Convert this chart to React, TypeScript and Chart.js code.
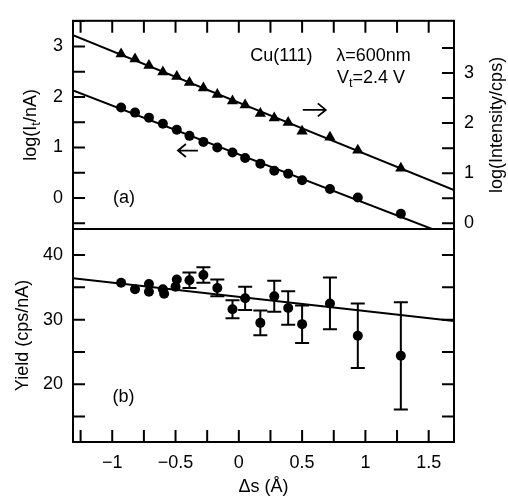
import React, { useEffect, useRef } from 'react';
import { Chart, registerables } from 'chart.js';

Chart.register(...registerables);

// ---- data ----
const deltaS = [-0.93, -0.82, -0.71, -0.60, -0.49, -0.39, -0.28, -0.17, -0.05, 0.05, 0.17, 0.28, 0.39, 0.50, 0.72, 0.94, 1.28];
const logCurrent = [1.79, 1.69, 1.59, 1.47, 1.35, 1.23, 1.11, 1.00, 0.90, 0.79, 0.68, 0.54, 0.48, 0.35, 0.18, 0.01, -0.31];
const logIntensity = [3.38, 3.28, 3.15, 3.02, 2.93, 2.81, 2.70, 2.57, 2.44, 2.36, 2.19, 2.10, 2.01, 1.84, 1.72, 1.46, 1.10];
const yieldVals = [35.7, 34.7, 35.5, 34.7, 36.2, 36.1, 36.9, 34.9, 31.6, 33.3, 29.5, 33.6, 31.8, 29.3, 32.5, 27.5, 24.4];
const yieldErr = [0, 0, 0, 0, 0, 1.2, 1.2, 1.3, 1.4, 1.8, 1.9, 2.4, 2.6, 2.9, 4.0, 5.0, 8.3];
const extraDeltaS = [-0.71, -0.59, -0.50];
const extraYield = [34.3, 34.0, 35.1];

const fitS = [-1.31, 1.70];
const fitLogCurrent = [2.13, -0.78];
const fitLogIntensity = [3.76, 0.66];
const fitYield = [36.4, 29.8];

// ---- tick labels / tick marks ----
const xTickLabels = [-1, -0.5, 0, 0.5, 1, 1.5];
const currentTickLabels = [0, 1, 2, 3];
const intensityTickLabels = [0, 1, 2, 3];
const yieldTickLabels = [20, 30, 40];
const xTickMarks = [-1.25, -1, -0.75, -0.5, -0.25, 0, 0.25, 0.5, 0.75, 1, 1.25, 1.5];
const currentTickMarks = [-0.5, 0, 0.5, 1, 1.5, 2, 2.5, 3, 3.5];
const intensityTickMarks = [0, 0.5, 1, 1.5, 2, 2.5, 3, 3.5];
const yieldTickMarks = [15, 20, 25, 30, 35, 40];

const FONT = '"Liberation Sans", Arial, Helvetica, sans-serif';
const FS = 18;
const TICK = 12;

const fmt = (v: number) => (v < 0 ? '\u2212' + Math.abs(v) : String(v));

type Seg = { t: string; sub?: boolean };

function drawRich(ctx: CanvasRenderingContext2D, segs: Seg[], x: number, y: number, size: number, align: 'left' | 'center', rot = 0) {
  ctx.save();
  ctx.translate(x, y);
  ctx.rotate(rot);
  const subSize = size * 0.72;
  const widths = segs.map((s) => {
    ctx.font = `${s.sub ? subSize : size}px ${FONT}`;
    return ctx.measureText(s.t).width;
  });
  const total = widths.reduce((a, b) => a + b, 0);
  let cx = align === 'center' ? -total / 2 : 0;
  ctx.textBaseline = 'middle';
  ctx.textAlign = 'left';
  ctx.fillStyle = '#000';
  segs.forEach((s, i) => {
    ctx.font = `${s.sub ? subSize : size}px ${FONT}`;
    ctx.fillText(s.t, cx, s.sub ? size * 0.32 : 0);
    cx += widths[i];
  });
  ctx.restore();
}

function arrow(ctx: CanvasRenderingContext2D, x1: number, x2: number, yy: number) {
  const d = x2 > x1 ? -1 : 1;
  ctx.beginPath();
  ctx.moveTo(x1, yy);
  ctx.lineTo(x2, yy);
  ctx.moveTo(x2 + d * 8, yy - 6.5);
  ctx.lineTo(x2, yy);
  ctx.lineTo(x2 + d * 8, yy + 6.5);
  ctx.stroke();
}

const tickFont = { family: FONT, size: FS };

function yScale(min: number, max: number, position: string, width: number, labels: number[] | null) {
  return {
    type: 'linear',
    position,
    min,
    max,
    grid: { display: false, drawTicks: false },
    border: { display: false },
    afterFit: (s: any) => { s.width = width; },
    afterBuildTicks: (s: any) => { if (labels) s.ticks = labels.map((v) => ({ value: v })); },
    ticks: {
      display: !!labels,
      font: tickFont,
      color: '#000',
      padding: 10,
      autoSkip: false,
      callback: (v: any) => fmt(Number(v)),
    },
  };
}

const topDecor = {
  id: 'topDecor',
  afterDraw(chart: any) {
    const { ctx, chartArea: a, scales } = chart;
    const x = scales.x, y = scales.y, y2 = scales.y2;
    ctx.save();
    ctx.strokeStyle = '#000';
    ctx.lineWidth = 2;
    ctx.strokeRect(a.left, a.top, a.right - a.left, a.bottom - a.top);
    ctx.beginPath();
    xTickMarks.forEach((v) => { const p = x.getPixelForValue(v); ctx.moveTo(p, a.top); ctx.lineTo(p, a.top + TICK); });
    currentTickMarks.forEach((v) => { const p = y.getPixelForValue(v); ctx.moveTo(a.left, p); ctx.lineTo(a.left + TICK, p); });
    intensityTickMarks.forEach((v) => { const p = y2.getPixelForValue(v); ctx.moveTo(a.right, p); ctx.lineTo(a.right - TICK, p); });
    ctx.stroke();
    const cy = (a.top + a.bottom) / 2;
    drawRich(ctx, [{ t: 'log(I' }, { t: 't', sub: true }, { t: '/nA)' }], 31, cy, FS, 'center', -Math.PI / 2);
    drawRich(ctx, [{ t: 'log(Intensity/cps)' }], 497, cy, FS, 'center', -Math.PI / 2);
    drawRich(ctx, [{ t: 'Cu(111)' }], x.getPixelForValue(0.09), y.getPixelForValue(2.806), FS, 'left');
    drawRich(ctx, [{ t: '\u03bb=600nm' }], x.getPixelForValue(0.77), y.getPixelForValue(2.806), FS, 'left');
    drawRich(ctx, [{ t: 'V' }, { t: 't', sub: true }, { t: '=2.4 V' }], x.getPixelForValue(0.775), y.getPixelForValue(2.38), FS, 'left');
    drawRich(ctx, [{ t: '(a)' }], x.getPixelForValue(-0.907), y.getPixelForValue(0), FS, 'center');
    ctx.lineWidth = 1.8;
    arrow(ctx, x.getPixelForValue(0.505), x.getPixelForValue(0.687), y.getPixelForValue(1.743));
    arrow(ctx, x.getPixelForValue(-0.323), x.getPixelForValue(-0.481), y.getPixelForValue(0.939));
    ctx.restore();
  },
};

const bottomDecor = {
  id: 'bottomDecor',
  afterDatasetsDraw(chart: any) {
    const { ctx, scales } = chart;
    const x = scales.x, y = scales.y;
    ctx.save();
    ctx.strokeStyle = '#000';
    ctx.lineWidth = 2;
    ctx.beginPath();
    deltaS.forEach((s, i) => {
      const e = yieldErr[i];
      if (!e) return;
      const px = x.getPixelForValue(s);
      const top = y.getPixelForValue(yieldVals[i] + e);
      const bot = y.getPixelForValue(yieldVals[i] - e);
      ctx.moveTo(px, top); ctx.lineTo(px, bot);
      ctx.moveTo(px - 7, top); ctx.lineTo(px + 7, top);
      ctx.moveTo(px - 7, bot); ctx.lineTo(px + 7, bot);
    });
    ctx.stroke();
    ctx.restore();
  },
  afterDraw(chart: any) {
    const { ctx, chartArea: a, scales } = chart;
    const x = scales.x, y = scales.y, y2 = scales.y2;
    ctx.save();
    ctx.strokeStyle = '#000';
    ctx.lineWidth = 2;
    ctx.strokeRect(a.left, a.top, a.right - a.left, a.bottom - a.top);
    ctx.beginPath();
    xTickMarks.forEach((v) => { const p = x.getPixelForValue(v); ctx.moveTo(p, a.bottom); ctx.lineTo(p, a.bottom - TICK); });
    yieldTickMarks.forEach((v) => { const p = y.getPixelForValue(v); ctx.moveTo(a.left, p); ctx.lineTo(a.left + TICK, p); });
    yieldTickMarks.forEach((v) => { const p = y2.getPixelForValue(v); ctx.moveTo(a.right, p); ctx.lineTo(a.right - TICK, p); });
    ctx.stroke();
    const cy = (a.top + a.bottom) / 2;
    drawRich(ctx, [{ t: 'Yield (cps/nA)' }], 23, cy, FS, 'center', -Math.PI / 2);
    drawRich(ctx, [{ t: '\u0394s (\u00c5)' }], (a.left + a.right) / 2, 487, FS, 'center');
    drawRich(ctx, [{ t: '(b)' }], x.getPixelForValue(-0.911), y.getPixelForValue(18.03), FS, 'center');
    ctx.restore();
  },
};

const pts = (xs: number[], ys: number[]) => xs.map((v, i) => ({ x: v, y: ys[i] }));

const common = {
  responsive: false,
  animation: false,
  devicePixelRatio: 1,
  events: [],
  plugins: { legend: { display: false }, tooltip: { enabled: false } },
};

function topConfig(): any {
  return {
    type: 'scatter',
    data: {
      datasets: [
        { data: pts(fitS, fitLogCurrent), yAxisID: 'y', showLine: true, borderColor: '#000', borderWidth: 2, pointRadius: 0, clip: 0 },
        { data: pts(fitS, fitLogIntensity), yAxisID: 'y2', showLine: true, borderColor: '#000', borderWidth: 2, pointRadius: 0, clip: 0 },
        { data: pts(deltaS, logCurrent), yAxisID: 'y', pointStyle: 'circle', pointRadius: 5, backgroundColor: '#000', borderWidth: 0 },
        { data: pts(deltaS, logIntensity), yAxisID: 'y2', pointStyle: 'triangle', pointRadius: 6.5, backgroundColor: '#000', borderWidth: 0 },
      ],
    },
    options: {
      ...common,
      layout: { padding: { top: 14, bottom: 498 - 229, left: 0, right: 0 } },
      scales: {
        x: { type: 'linear', min: -1.31, max: 1.70, display: false },
        y: yScale(-0.613, 3.506, 'left', 73, currentTickLabels),
        y2: yScale(-0.116, 4.045, 'right', 54, intensityTickLabels),
      },
    },
    plugins: [topDecor],
  };
}

function bottomConfig(): any {
  return {
    type: 'scatter',
    data: {
      datasets: [
        { data: pts(fitS, fitYield), showLine: true, borderColor: '#000', borderWidth: 2, pointRadius: 0, clip: 0 },
        { data: pts(deltaS, yieldVals), pointStyle: 'circle', pointRadius: 5, backgroundColor: '#000', borderWidth: 0 },
        { data: pts(extraDeltaS, extraYield), pointStyle: 'circle', pointRadius: 5, backgroundColor: '#000', borderWidth: 0 },
      ],
    },
    options: {
      ...common,
      layout: { padding: { top: 229, bottom: 0, left: 0, right: 0 } },
      scales: {
        x: {
          type: 'linear',
          position: 'bottom',
          min: -1.31,
          max: 1.70,
          grid: { display: false, drawTicks: false },
          border: { display: false },
          afterFit: (s: any) => { s.height = 56; },
          afterBuildTicks: (s: any) => { s.ticks = xTickLabels.map((v) => ({ value: v })); },
          ticks: { font: tickFont, color: '#000', padding: 10, autoSkip: false, maxRotation: 0, callback: (v: any) => fmt(Number(v)) },
        },
        y: yScale(11.07, 44.02, 'left', 73, yieldTickLabels),
        y2: yScale(11.07, 44.02, 'right', 54, null),
      },
    },
    plugins: [bottomDecor],
  };
}

export default function App() {
  const topRef = useRef<HTMLCanvasElement>(null);
  const botRef = useRef<HTMLCanvasElement>(null);
  useEffect(() => {
    const c1 = new Chart(topRef.current as HTMLCanvasElement, topConfig());
    const c2 = new Chart(botRef.current as HTMLCanvasElement, bottomConfig());
    return () => { c1.destroy(); c2.destroy(); };
  }, []);
  return (
    <div style={{ position: 'absolute', left: 0, top: 0, width: 508, height: 498, background: '#fff' }}>
      <canvas ref={botRef} width={508} height={498} style={{ position: 'absolute', left: 0, top: 0 }} />
      <canvas ref={topRef} width={508} height={498} style={{ position: 'absolute', left: 0, top: 0 }} />
    </div>
  );
}
